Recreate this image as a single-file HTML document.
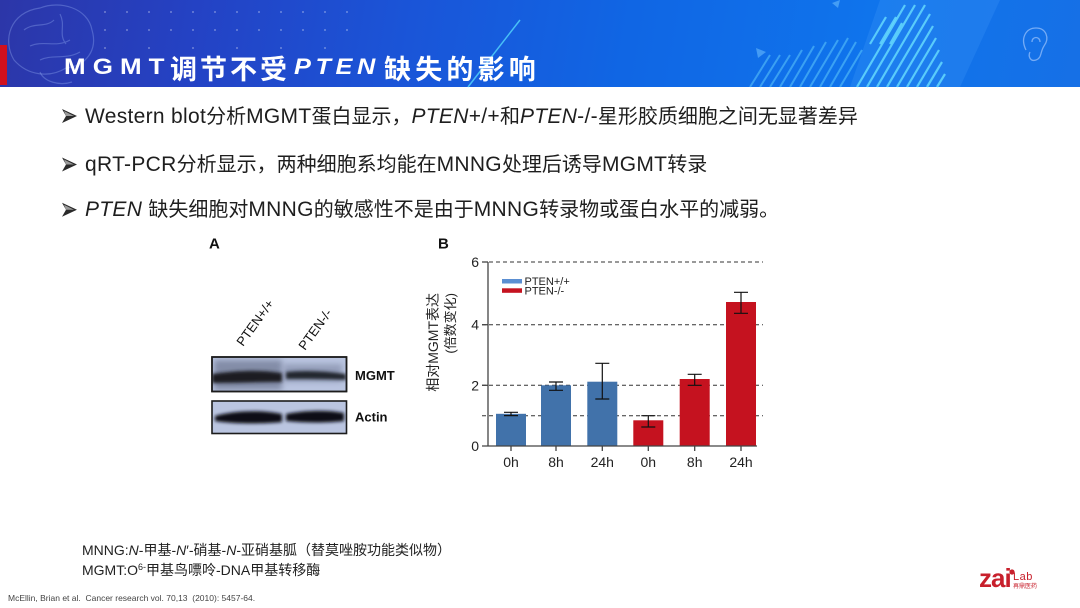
<!DOCTYPE html>
<html><head><meta charset="utf-8"><style>
*{margin:0;padding:0;box-sizing:border-box}
body{width:1080px;height:608px;overflow:hidden;background:#fff;position:relative;font-family:"Liberation Sans","Noto Sans CJK SC",sans-serif;color:#1e1e1e}
.hdr{position:absolute;left:0;top:0;width:1080px;height:87px;background:linear-gradient(100deg,#2c36a8 0%,#2442c4 18%,#1a55d8 38%,#1066e4 58%,#0f74ec 80%,#1670e6 100%)}
.red{position:absolute;left:0;top:45px;width:7px;height:40px;background:#d0101e}
.t{position:absolute;color:#fff;font-weight:bold;white-space:nowrap}
.lat{font-family:"Liberation Sans",sans-serif;font-size:22px;line-height:22px;top:56.4px;transform-origin:0 0}
.cjk{font-family:"Noto Sans CJK SC",sans-serif;font-size:27px;line-height:27px;top:53.7px}
.b{position:absolute;left:85px;font-size:20px;line-height:24px;white-space:nowrap;color:#1e1e1e}
.l{font-size:21px;letter-spacing:.3px}
.n{position:absolute;left:82px;font-size:14px;line-height:17px;white-space:nowrap;color:#222}
svg{position:absolute;left:0;top:0}
</style></head><body>
<div class="hdr"></div>
<svg width="1080" height="608" viewBox="0 0 1080 608">
  <!-- header decorations -->
  <g fill="none" stroke="rgba(170,195,255,0.3)" stroke-width="1.2">
    <path d="M14,60 C2,40 10,12 40,8 C60,0 88,8 92,30 C98,50 86,66 66,68 C50,78 28,76 14,60 Z"/>
    <path d="M24,30 C34,22 46,28 54,20 M30,46 C44,40 56,48 70,40 M40,60 C52,54 66,60 80,52 M60,14 C66,26 58,34 66,44"/>
    <path d="M40,72 C44,82 60,86 72,82"/>
  </g>
  <g fill="rgba(255,255,255,0.45)">
    <circle cx="105" cy="12" r="0.9"/><circle cx="127" cy="12" r="0.9"/><circle cx="149" cy="12" r="0.9"/><circle cx="171" cy="12" r="0.9"/><circle cx="193" cy="12" r="0.9"/><circle cx="215" cy="12" r="0.9"/><circle cx="237" cy="12" r="0.9"/><circle cx="259" cy="12" r="0.9"/><circle cx="281" cy="12" r="0.9"/><circle cx="303" cy="12" r="0.9"/><circle cx="325" cy="12" r="0.9"/><circle cx="347" cy="12" r="0.9"/>
    <circle cx="105" cy="30" r="0.9"/><circle cx="127" cy="30" r="0.9"/><circle cx="149" cy="30" r="0.9"/><circle cx="171" cy="30" r="0.9"/><circle cx="193" cy="30" r="0.9"/><circle cx="215" cy="30" r="0.9"/><circle cx="237" cy="30" r="0.9"/><circle cx="259" cy="30" r="0.9"/><circle cx="281" cy="30" r="0.9"/><circle cx="303" cy="30" r="0.9"/><circle cx="325" cy="30" r="0.9"/><circle cx="347" cy="30" r="0.9"/>
    <circle cx="105" cy="48" r="0.9"/><circle cx="149" cy="48" r="0.9"/><circle cx="193" cy="48" r="0.9"/><circle cx="237" cy="48" r="0.9"/><circle cx="281" cy="48" r="0.9"/><circle cx="325" cy="48" r="0.9"/>
  </g>
  <line x1="468" y1="87" x2="520" y2="20" stroke="rgba(90,225,255,0.75)" stroke-width="1.5"/>
  <polygon points="850,87 880,0 1000,0 960,87" fill="rgba(90,170,255,0.18)"/>
  <g stroke="rgba(110,230,255,0.75)" stroke-width="2.2">
    <line x1="857" y1="87" x2="905" y2="5"/><line x1="867" y1="87" x2="915" y2="5"/><line x1="877" y1="87" x2="925" y2="5"/><line x1="887" y1="87" x2="930" y2="14"/><line x1="897" y1="87" x2="933" y2="26"/><line x1="907" y1="87" x2="936" y2="38"/><line x1="917" y1="87" x2="939" y2="50"/><line x1="927" y1="87" x2="942" y2="62"/><line x1="937" y1="87" x2="945" y2="74"/>
    <line x1="870" y1="44" x2="886" y2="17"/><line x1="880" y1="44" x2="896" y2="17"/><line x1="890" y1="44" x2="902" y2="23"/>
  </g>
  <g stroke="rgba(110,220,255,0.45)" stroke-width="2">
    <line x1="750" y1="87" x2="770" y2="55"/><line x1="760" y1="87" x2="780" y2="55"/><line x1="770" y1="87" x2="790" y2="55"/><line x1="780" y1="87" x2="802" y2="50"/><line x1="790" y1="87" x2="814" y2="46"/><line x1="800" y1="87" x2="826" y2="42"/><line x1="810" y1="87" x2="838" y2="40"/><line x1="820" y1="87" x2="848" y2="38"/><line x1="830" y1="87" x2="856" y2="42"/><line x1="840" y1="87" x2="862" y2="50"/>
  </g>
  <polygon points="756,48 766,52 758,58" fill="rgba(120,200,255,0.5)"/>
  <polygon points="832,3 840,0 838,8" fill="rgba(120,200,255,0.5)"/>
  <path d="M1026,50 C1020,38 1026,28 1036,28 C1046,28 1050,38 1044,46 C1040,52 1042,58 1036,60 C1030,62 1028,56 1030,52 M1032,42 C1032,36 1040,36 1040,42" fill="none" stroke="rgba(180,210,255,0.6)" stroke-width="1.3"/>

  <!-- bullet arrows -->
  <g fill="#2a2a2a">
    <polygon points="62,109 77,116 62,123 66,116"/>
    <polygon points="62,157.5 77,164.5 62,171.5 66,164.5"/>
    <polygon points="62,202.7 77,209.7 62,216.7 66,209.7"/>
  </g>
  <g fill="#9a9a9a">
    <polygon points="64,111 74,116 66,116"/>
    <polygon points="64,159.5 74,164.5 66,164.5"/>
    <polygon points="64,204.7 74,209.7 66,209.7"/>
  </g>

  <!-- Panel A: western blot -->
  <defs>
    <filter id="bl" x="-10%" y="-100%" width="120%" height="300%"><feGaussianBlur stdDeviation="1.6"/></filter>
    <filter id="bl2" x="-10%" y="-100%" width="120%" height="300%"><feGaussianBlur stdDeviation="3"/></filter>
    <clipPath id="c1"><rect x="212" y="357" width="134.5" height="34.5"/></clipPath>
  </defs>
  <text x="209" y="248.5" font-family="Liberation Sans" font-weight="bold" font-size="15" fill="#111">A</text>
  <text x="0" y="0" transform="translate(243,347) rotate(-54)" font-family="Liberation Sans" font-size="13" fill="#111">PTEN+/+</text>
  <text x="0" y="0" transform="translate(305,351) rotate(-54)" font-family="Liberation Sans" font-size="13" fill="#111">PTEN-/-</text>
  <rect x="212" y="357" width="134.5" height="34.5" fill="#bac5e0" stroke="#1c1c1c" stroke-width="1.6"/>
  <g clip-path="url(#c1)">
    <rect x="214" y="360" width="68" height="30" fill="#5f6782" opacity="0.6" filter="url(#bl2)"/>
    <rect x="284" y="364" width="58" height="18" fill="#6f7895" opacity="0.5" filter="url(#bl2)"/>
    <path d="M212,374 C240,370 262,370 282,373 L282,382 C258,382 238,383 212,383 Z" fill="#1a1c24" filter="url(#bl)"/>
    <path d="M286,372 C305,370 325,371 346,374 L346,380 C325,379 305,379 286,379 Z" fill="#22252f" filter="url(#bl)"/>
  </g>
  <rect x="212" y="357" width="134.5" height="34.5" fill="none" stroke="#1c1c1c" stroke-width="1.6"/>
  <rect x="212" y="401" width="134.5" height="32.5" fill="#bac5e0" stroke="#1c1c1c" stroke-width="1.6"/>
  <path d="M215,416 C235,410 265,410 282,414 L282,422 C262,424 235,424 215,421 Z" fill="#0e1015" filter="url(#bl)"/>
  <path d="M286,414 C305,410 330,410 344,413 L344,421 C328,423 305,423 286,421 Z" fill="#0e1015" filter="url(#bl)"/>
  <text x="355" y="380" font-family="Liberation Sans" font-weight="bold" font-size="13" fill="#111">MGMT</text>
  <text x="355" y="421.5" font-family="Liberation Sans" font-weight="bold" font-size="13" fill="#111">Actin</text>

  <!-- Panel B: chart -->
  <text x="438" y="248.5" font-family="Liberation Sans" font-weight="bold" font-size="15" fill="#111">B</text>
  <g stroke="#333" stroke-width="1" stroke-dasharray="4,3">
    <line x1="482" y1="262" x2="763" y2="262"/>
    <line x1="482" y1="324.7" x2="763" y2="324.7"/>
    <line x1="482" y1="385.3" x2="763" y2="385.3"/>
    <line x1="482" y1="415.7" x2="763" y2="415.7"/>
  </g>
  <g fill="#4172aa">
    <rect x="496" y="413.8" width="30" height="32.2"/>
    <rect x="541" y="385.3" width="30" height="60.7"/>
    <rect x="587.3" y="381.7" width="30" height="64.3"/>
  </g>
  <g fill="#c5121f">
    <rect x="633.3" y="420.3" width="30" height="25.7"/>
    <rect x="679.7" y="379" width="30" height="67"/>
    <rect x="726" y="302" width="30" height="144"/>
  </g>
  <g stroke="#111" stroke-width="1.2" fill="none">
    <path d="M511,412.3V415.6M504,412.3H518M504,415.6H518"/>
    <path d="M556,382V390.3M549,382H563M549,390.3H563"/>
    <path d="M602.3,363.3V399M595.3,363.3H609.3M595.3,399H609.3"/>
    <path d="M648.3,415.7V427M641.3,415.7H655.3M641.3,427H655.3"/>
    <path d="M694.7,374.3V385.3M687.7,374.3H701.7M687.7,385.3H701.7"/>
    <path d="M741,292.3V313.3M734,292.3H748M734,313.3H748"/>
  </g>
  <g stroke="#444" stroke-width="1.3" fill="none">
    <line x1="488" y1="262" x2="488" y2="446"/>
    <line x1="482" y1="446" x2="757" y2="446"/>
    <line x1="482" y1="262" x2="488" y2="262"/>
    <line x1="482" y1="324.7" x2="488" y2="324.7"/>
    <line x1="482" y1="385.3" x2="488" y2="385.3"/>
    <line x1="511" y1="446" x2="511" y2="451"/>
    <line x1="556" y1="446" x2="556" y2="451"/>
    <line x1="602.3" y1="446" x2="602.3" y2="451"/>
    <line x1="648.3" y1="446" x2="648.3" y2="451"/>
    <line x1="694.7" y1="446" x2="694.7" y2="451"/>
    <line x1="741" y1="446" x2="741" y2="451"/>
  </g>
  <g font-family="Liberation Sans" font-size="14" fill="#222" text-anchor="end">
    <text x="479" y="267">6</text>
    <text x="479" y="329.7">4</text>
    <text x="479" y="390.3">2</text>
    <text x="479" y="451">0</text>
  </g>
  <g font-family="Liberation Sans" font-size="14" fill="#222" text-anchor="middle">
    <text x="511" y="467">0h</text>
    <text x="556" y="467">8h</text>
    <text x="602.3" y="467">24h</text>
    <text x="648.3" y="467">0h</text>
    <text x="694.7" y="467">8h</text>
    <text x="741" y="467">24h</text>
  </g>
  <text transform="translate(438,293) rotate(-90)" text-anchor="end" font-family="Liberation Sans, Noto Sans CJK SC, sans-serif" font-size="14" fill="#222">相对MGMT表达</text>
  <text transform="translate(455,293) rotate(-90)" text-anchor="end" font-family="Liberation Sans, Noto Sans CJK SC, sans-serif" font-size="13" fill="#222">(倍数变化)</text>
  <rect x="502" y="279" width="20" height="4.5" fill="#5b8fd2"/>
  <rect x="502" y="288.3" width="20" height="4.5" fill="#c5121f"/>
  <text x="524.5" y="285" font-family="Liberation Sans" font-size="11" fill="#222">PTEN+/+</text>
  <text x="524.5" y="294.5" font-family="Liberation Sans" font-size="11" fill="#222">PTEN-/-</text>

  <!-- logo -->
  <circle cx="1012" cy="572" r="2.6" fill="#c8202c"/>
  <text x="1013" y="580" font-family="Liberation Sans" font-size="11" fill="#c8202c" letter-spacing="0.5">Lab</text>
  <text x="1013" y="588" font-family="Noto Sans CJK SC, sans-serif" font-size="6" fill="#c8202c">再鼎医药</text>
</svg>

<div class="red"></div>
<div class="t lat" style="left:64px;letter-spacing:6px;transform:scaleX(1.18)">MGMT</div>
<div class="t cjk" style="left:170px;letter-spacing:3px">调节不受</div>
<div class="t lat" style="left:294px;letter-spacing:4px;font-style:italic;transform:scaleX(1.15)">PTEN</div>
<div class="t cjk" style="left:384px;letter-spacing:4.2px">缺失的影响</div>

<div class="b" style="top:104.7px"><span class="l">Western blot</span>分析<span class="l">MGMT</span>蛋白显示，<span class="l"><i>PTEN</i>+/+</span>和<span class="l"><i>PTEN</i>-/-</span>星形胶质细胞之间无显著差异</div>
<div class="b" style="top:153.2px"><span class="l">qRT-PCR</span>分析显示，两种细胞系均能在<span class="l">MNNG</span>处理后诱导<span class="l">MGMT</span>转录</div>
<div class="b" style="top:198.4px"><span class="l"><i>PTEN</i> </span>缺失细胞对<span class="l">MNNG</span>的敏感性不是由于<span class="l">MNNG</span>转录物或蛋白水平的减弱。</div>

<div class="n" style="top:542px">MNNG:<i>N</i>-甲基-<i>N</i>′-硝基-<i>N</i>-亚硝基胍（替莫唑胺功能类似物）</div>
<div class="n" style="top:559px">MGMT:O<span style="font-size:9px;vertical-align:5px">6-</span>甲基鸟嘌呤-DNA甲基转移酶</div>
<div style="position:absolute;left:8px;top:592px;font-size:8.5px;line-height:12px;white-space:pre;color:#444">McEllin, Brian et al.  Cancer research vol. 70,13  (2010): 5457-64.</div>
<div style="position:absolute;left:979px;top:564.7px;font-size:26px;line-height:26px;font-weight:bold;color:#c8202c;letter-spacing:-1px;font-family:'Liberation Sans',sans-serif">zai</div>
</body></html>
